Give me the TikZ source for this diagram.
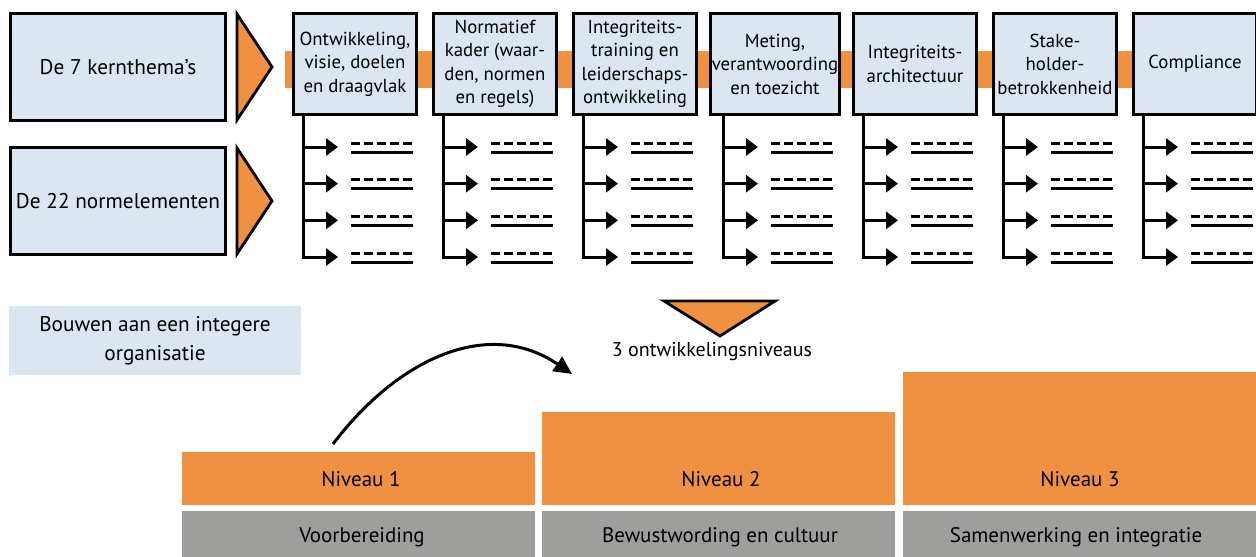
\documentclass[tikz,border=0pt]{standalone}
\usepackage{fontspec}
\setmainfont{PT Sans}
\usetikzlibrary{arrows.meta}
\definecolor{orng}{HTML}{F09142}
\definecolor{lblue}{HTML}{DCE6F0}
\definecolor{gry}{HTML}{9E9E9C}
\tikzset{
  themebox/.style={draw=black, line width=3pt, fill=lblue, minimum width=123pt, minimum height=101pt,
    align=center, inner sep=1pt, font=\fontsize{18.8}{23.5}\selectfont},
  leftbox/.style={draw=black, line width=3pt, fill=lblue, minimum width=215pt, minimum height=107pt,
    align=center, font=\fontsize{21.3}{25}\selectfont},
  tri/.style={draw=black, line width=2.8pt, fill=orng, line join=miter},
  treeline/.style={line width=3pt},
  branch/.style={line width=3pt, -{Triangle[length=12pt,width=17pt]}},
  dashl/.style={line width=3pt, dash pattern=on 9pt off 4pt},
  solidl/.style={line width=3pt},
  lvltext/.style={font=\fontsize{21}{25}\selectfont},
}
\begin{document}
\begin{tikzpicture}[x=1pt,y=-1pt]
\useasboundingbox (0,0) rectangle (1256,557);
% orange band behind themes
\fill[orng] (285,51) rectangle (1262,88);
% left boxes
\node[leftbox] (kern) at (118,67) {De 7 kernthema’s};
\node[leftbox] (norm) at (118,201) {De 22 normelementen};
\draw[tri] (237,14) -- (272,67) -- (237,120) -- cycle;
\draw[tri] (237,148) -- (272,201) -- (237,254) -- cycle;
% themes
\foreach \i/\t in {0/{Ontwikkeling,\\visie, doelen\\en draagvlak},
                   1/{Normatief\\kader (waar-\\den, normen\\en regels)},
                   2/{Integriteits-\\training en\\leiderschaps-\\ontwikkeling},
                   3/{Meting,\\verantwoording\\en toezicht},
                   4/{Integriteits-\\architectuur},
                   5/{Stake-\\holder-\\betrokkenheid},
                   6/{Compliance}}{
  \pgfmathsetmacro{\xl}{292+140*\i}
  \node[themebox] (t\i) at (\xl+63,64) {\t};
  \coordinate (r\i) at (\xl+11,114.5);
  \coordinate (e\i) at (\xl+45,257);
  \draw[treeline] (r\i) |- ([xshift=-8pt]e\i);
  \foreach \k in {0,1,2,3}{
    \pgfmathsetmacro{\yy}{147+36.67*\k}
    \draw[branch] (\xl+11,\yy) -- (\xl+46,\yy);
    \draw[dashl] (\xl+59,\yy-4) -- (\xl+121,\yy-4);
    \draw[solidl] (\xl+59,\yy+5) -- (\xl+121,\yy+5);
  }
}
% Bouwen box
\node[fill=lblue, minimum width=292pt, minimum height=69pt, align=center,
      font=\fontsize{21.3}{29}\selectfont] (bouw) at (155,340.5)
      {Bouwen aan een integere\\organisatie};
% down triangle and label
\draw[tri] (664,301) -- (775,301) -- (720,336) -- cycle;
\node[font=\fontsize{20}{24}\selectfont] (three) at (712,352) {3 ontwikkelingsniveaus};
% levels
\fill[orng] (182,452) rectangle (535,505);
\fill[orng] (542,412) rectangle (895,505);
\fill[orng] (903,372) rectangle (1258,505);
\fill[gry] (182,511) rectangle (535,560);
\fill[gry] (542,511) rectangle (895,560);
\fill[gry] (903,511) rectangle (1258,560);
\node[lvltext] (n1) at (361,479) {Niveau 1};
\node[lvltext] (n2) at (721,479) {Niveau 2};
\node[lvltext] (n3) at (1080,479) {Niveau 3};
\node[lvltext] (g1) at (362,537) {Voorbereiding};
\node[lvltext] (g2) at (720,537) {Bewustwording en cultuur};
\node[lvltext] (g3) at (1076,537) {Samenwerking en integratie};
% curved arrow
\coordinate (as) at (333,444);
\coordinate (ae) at (572,374);
\draw[line width=3pt, -{Triangle[length=18pt,width=17pt]}] (as) .. controls (400,356) and (490,318) .. (ae);
\end{tikzpicture}
\end{document}
